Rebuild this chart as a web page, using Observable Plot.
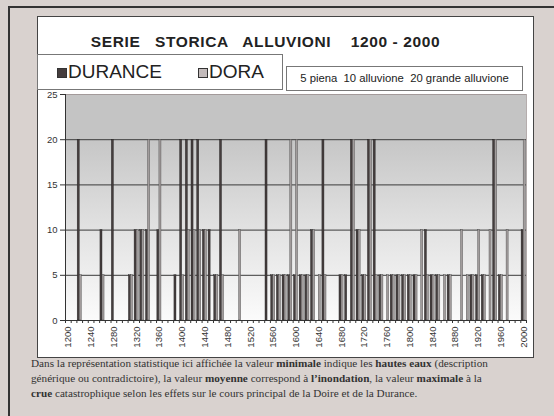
<!DOCTYPE html>
<html><head><meta charset="utf-8">
<script src="https://cdn.jsdelivr.net/npm/d3@7"></script>
<script src="https://cdn.jsdelivr.net/npm/@observablehq/plot@0.6"></script>
<style>
body{margin:0;background:#d9d2cf;width:554px;height:416px;overflow:hidden;position:relative;font-family:"Liberation Sans",Arial,sans-serif;}
#topline{position:absolute;left:8px;top:6px;width:546px;height:2px;background:#333;}
#leftline{position:absolute;left:8px;top:6px;width:2px;height:410px;background:#333;}
#box{position:absolute;left:37px;top:16px;width:495px;height:340px;background:#fff;border:1px solid #444;}
#chart{position:absolute;left:0;top:0;}
#title{position:absolute;left:37px;top:33px;width:457px;text-align:center;font-weight:bold;font-size:15.5px;letter-spacing:0.6px;white-space:pre;color:#222;}
#legend{position:absolute;left:37px;top:54px;width:244px;height:34px;border:1px solid #777;background:#fff;font-size:19px;color:#222;}
#legend span.sw{position:absolute;top:13px;width:8px;height:8px;border:1px solid #333;}
#legend span.lb{position:absolute;top:6px;line-height:22px;}
#note{position:absolute;left:286px;top:66px;width:235px;height:23px;border:1px solid #777;background:#fff;font-size:11.3px;line-height:23px;text-align:center;color:#222;white-space:pre;}
#caption{position:absolute;left:31px;top:356px;width:520px;font-family:"Liberation Serif","Times New Roman",serif;font-size:11.2px;line-height:15px;color:#333;white-space:nowrap;}
</style></head>
<body>
<div id="topline"></div><div id="leftline"></div>
<div id="box"></div>
<div id="chart"></div>
<div id="title"></div>
<div id="legend"></div>
<div id="note"></div>
<div id="caption"></div>
<script>
// ---- data ----
const decades = [1200,1210,1220,1230,1240,1250,1260,1270,1280,1290,1300,1310,1320,1330,1340,1350,1360,1370,1380,1390,
  1400,1410,1420,1430,1440,1450,1460,1470,1480,1490,1500,1510,1520,1530,1540,1550,1560,1570,1580,1590,
  1600,1610,1620,1630,1640,1650,1660,1670,1680,1690,1700,1710,1720,1730,1740,1750,1760,1770,1780,1790,
  1800,1810,1820,1830,1840,1850,1860,1870,1880,1890,1900,1910,1920,1930,1940,1950,1960,1970,1980,1990,2000];
const durance = [0,0,20,0,0,0,10,0,20,0,0,5,10,10,10,0,10,0,0,5,
  20,20,20,20,10,10,5,20,0,0,0,0,0,0,0,20,5,5,5,5,
  5,5,5,10,0,20,0,0,5,5,20,10,5,20,20,5,0,5,5,5,
  5,5,0,10,5,5,0,5,0,0,0,5,5,5,0,20,5,0,0,0,10];
const dora = [0,0,5,0,0,0,5,0,0,0,0,5,10,10,20,0,20,0,0,0,
  5,10,10,10,10,0,5,5,0,0,10,0,0,0,0,0,5,5,5,20,
  20,5,5,10,5,5,0,0,5,0,20,10,5,20,5,5,5,5,5,5,
  5,5,10,5,5,5,5,5,0,10,5,5,10,5,10,20,5,10,0,0,20];
const seriesNames = ["DURANCE", "DORA"];
const seriesColors = ["#453d3d", "#c3bbbb"];
const yTicks = [0, 5, 10, 15, 20, 25];
const xLabelYears = [1200,1240,1280,1320,1360,1400,1440,1480,1520,1560,1600,1640,1680,1720,1760,1800,1840,1880,1920,1960,2000];
const xTickLabels = ["1200","1240","1280","1320","1360","1400","1440","1480","1520","1560","1600","1640","1680","1720","1760","1800","1840","1880","1920","1960","2000"];
const titleText = "SERIE   STORICA   ALLUVIONI    1200 - 2000";
const noteText = "5 piena  10 alluvione  20 grande alluvione";
const captionLines = [
  ["Dans la représentation statistique ici affichée la valeur ", ["minimale"], " indique les ", ["hautes eaux"], " (description"],
  ["générique ou contradictoire), la valeur ", ["moyenne"], " correspond à ", ["l’inondation"], ", la valeur ", ["maximale"], " à la"],
  [["crue"], " catastrophique selon les effets sur le cours principal de la Doire et de la Durance."]
];

// ---- table ----
const rows = [];
decades.forEach((d, i) => {
  rows.push({decade: d, river: seriesNames[0], value: durance[i]});
  rows.push({decade: d, river: seriesNames[1], value: dora[i]});
});
const bars = rows.filter(r => r.value > 0);
const boundaries = decades.map(d => d - 5).concat([2005]);
const xMin = 1195, xMax = 2005;

const chart = Plot.plot({
  width: 554, height: 360,
  marginLeft: 65, marginRight: 28, marginTop: 94, marginBottom: 40,
  style: {background: "transparent", fontFamily: "Liberation Sans, Arial, sans-serif", color: "#333", fontSize: "9px"},
  x: {domain: [xMin, xMax], label: null},
  y: {domain: [0, 25], label: null},
  marks: [
    Plot.rect([0], {x1: xMin, x2: xMax, y1: 20, y2: 25, fill: "#c4c4c4"}),
    Plot.rect([0], {x1: xMin, x2: xMax, y1: 0, y2: 20, fill: "url(#bgGrad)"}),
    Plot.ruleY([5, 10, 15, 20], {stroke: "#3a3a3a", strokeWidth: 1}),
    Plot.ruleY([25], {stroke: "#a39a9a"}),
    Plot.ruleX([xMax], {y1: 0, y2: 25, stroke: "#b5adad"}),
    Plot.rectY(bars.filter(b => b.river === seriesNames[0]), {
      x1: d => d.decade - 3.6, x2: d => d.decade, y: "value",
      fill: seriesColors[0], stroke: "#222", strokeWidth: 0.4
    }),
    Plot.rectY(bars.filter(b => b.river === seriesNames[1]), {
      x1: d => d.decade, x2: d => d.decade + 3.6, y: "value",
      fill: "#a29c9c", stroke: "#444", strokeWidth: 0.4
    }),
    Plot.ruleY([0], {stroke: "#333"}),
    Plot.ruleX([xMin], {y1: 0, y2: 25, stroke: "#333"}),
    Plot.axisY({ticks: yTicks, tickSize: 5, tickPadding: 3, fontSize: 9.5, stroke: "#333"}),
    Plot.axisX({ticks: boundaries, tickSize: 3, tickFormat: () => "", stroke: "#333"}),
    Plot.axisX({ticks: xLabelYears, tickSize: 0, tickRotate: -90, tickPadding: 6, fontSize: 9.5,
      tickFormat: d => xTickLabels[xLabelYears.indexOf(d)]})
  ]
});
const svgSel = d3.select(chart);
const defs = svgSel.insert("defs", ":first-child");
const g = defs.append("linearGradient").attr("id", "bgGrad").attr("x1", 0).attr("y1", 0).attr("x2", 0).attr("y2", 1);
g.append("stop").attr("offset", "0%").attr("stop-color", "#c6c6c6");
g.append("stop").attr("offset", "50%").attr("stop-color", "#e2e2e2");
g.append("stop").attr("offset", "100%").attr("stop-color", "#fbfbfb");
document.getElementById("chart").appendChild(chart);

// ---- texts ----
document.getElementById("title").textContent = titleText;
document.getElementById("note").textContent = noteText;
const legend = document.getElementById("legend");
const legendPos = [[19, 30], [160, 171]];
seriesNames.forEach((name, i) => {
  const sw = document.createElement("span");
  sw.className = "sw"; sw.style.left = legendPos[i][0] + "px"; sw.style.background = seriesColors[i];
  const lb = document.createElement("span");
  lb.className = "lb"; lb.style.left = legendPos[i][1] + "px"; lb.textContent = name;
  legend.appendChild(sw); legend.appendChild(lb);
});
const cap = document.getElementById("caption");
captionLines.forEach(line => {
  const div = document.createElement("div");
  line.forEach(part => {
    if (Array.isArray(part)) { const b = document.createElement("b"); b.textContent = part[0]; div.appendChild(b); }
    else div.appendChild(document.createTextNode(part));
  });
  cap.appendChild(div);
});
</script>
</body></html>
